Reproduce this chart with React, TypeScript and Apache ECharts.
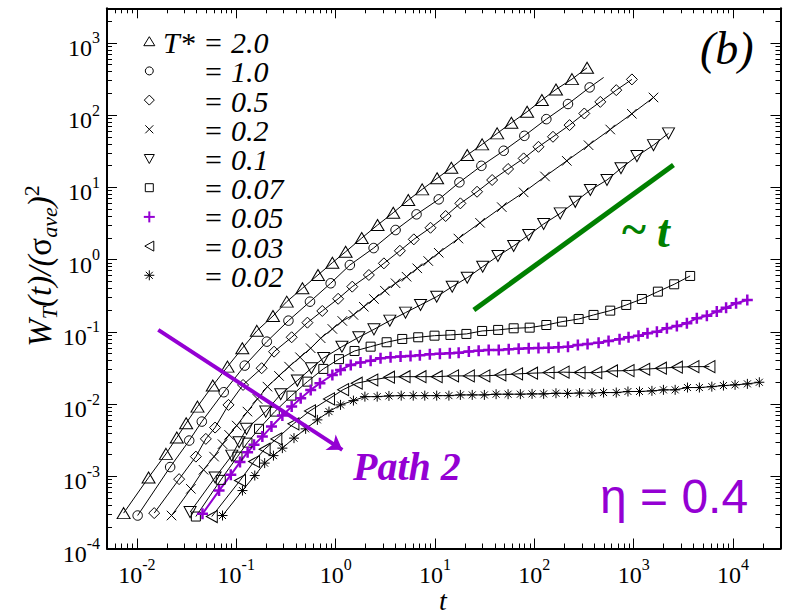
import React, { useEffect, useRef } from 'react';
import * as echarts from 'echarts';

const FONT = '"Liberation Serif", "Times New Roman", serif';
const SANS = '"Liberation Sans", Arial, sans-serif';
const PURPLE = '#9400d3';
const GREEN = '#008000';

// ---- data ----
// T* = 2.0
const t20 = [0.00735, 0.0131, 0.0196, 0.0252, 0.0313, 0.0407, 0.058, 0.0816, 0.115, 0.161, 0.234, 0.322, 0.463, 0.664, 0.927, 1.26, 1.83, 2.64, 3.8, 5.38, 7.43, 10.5, 14.6, 21.1, 29.8, 42.2, 58.7, 84.5, 119, 165, 239, 339];
const w20 = [3.09e-4, 9.6e-4, 2.04e-3, 3.43e-3, 5.42e-3, 9.2e-3, 0.018, 0.0329, 0.0591, 0.103, 0.165, 0.261, 0.4, 0.611, 0.903, 1.28, 1.98, 3.0, 4.44, 6.65, 9.35, 13.3, 18.6, 27.9, 39.2, 55.7, 78.0, 111, 161, 226, 314, 450];
// T* = 1.0
const t10 = [0.01017, 0.0216, 0.0336, 0.045, 0.0748, 0.1217, 0.203, 0.335, 0.552, 0.891, 1.39, 2.41, 4.01, 6.52, 10.9, 17.6, 29.3, 49.1, 79.3, 132, 218, 360, 498];
const w10 = [2.86e-4, 1.34e-3, 3.12e-3, 5.71e-3, 0.01456, 0.034, 0.073, 0.1425, 0.261, 0.469, 0.839, 1.44, 2.56, 4.22, 6.8, 11.7, 19.8, 32.0, 51.5, 87.7, 142, 241, 331];
// T* = 0.5
const t05 = [0.01493, 0.0266, 0.0392, 0.0494, 0.0612, 0.0835, 0.117, 0.18, 0.24, 0.361, 0.52, 0.734, 1.06, 1.47, 2.16, 3.06, 4.43, 6.12, 9.01, 12.8, 18.0, 26.5, 37.6, 54.4, 78.0, 110, 154, 226, 318, 461, 667, 959];
const w05 = [3.09e-4, 9.12e-4, 1.87e-3, 3.29e-3, 4.72e-3, 9.72e-3, 0.01837, 0.0313, 0.053, 0.0839, 0.1336, 0.194, 0.286, 0.421, 0.611, 0.885, 1.32, 1.9, 2.75, 4.0, 5.99, 8.67, 12.6, 17.9, 25.1, 36.3, 50.0, 72.5, 105, 152, 221, 311];
// T* = 0.2
const t02 = [0.0223, 0.0349, 0.0468, 0.0598, 0.0727, 0.0847, 0.101, 0.1296, 0.1633, 0.206, 0.269, 0.34, 0.438, 0.561, 0.707, 0.927, 1.167, 1.51, 1.92, 2.43, 3.13, 4.01, 5.17, 6.63, 8.55, 10.9, 17.2, 28.4, 47.0, 78.0, 128, 212, 351, 580, 957, 1581];
const w02 = [2.86e-4, 6.7e-4, 1.23e-3, 1.87e-3, 2.78e-3, 3.74e-3, 5.03e-3, 7.85e-3, 0.01177, 0.0174, 0.0245, 0.0329, 0.0444, 0.0591, 0.0813, 0.1094, 0.141, 0.171, 0.222, 0.284, 0.37, 0.469, 0.578, 0.755, 0.953, 1.24, 1.95, 3.22, 5.31, 8.5, 14.1, 23.2, 38.2, 63.0, 104, 175];
// T* = 0.1
const t01 = [0.0343, 0.0612, 0.0901, 0.1067, 0.1267, 0.198, 0.28, 0.412, 0.57, 0.757, 1.157, 1.71, 2.43, 3.51, 5.05, 7.15, 10.4, 14.9, 21.1, 30.2, 43.0, 61.9, 87.7, 124, 182, 258, 366, 538, 744, 1077, 1581, 2239];
const w01 = [3.19e-4, 9.6e-4, 1.93e-3, 2.96e-3, 4.53e-3, 7.85e-3, 0.01367, 0.0211, 0.0313, 0.0434, 0.0622, 0.0839, 0.108, 0.1425, 0.184, 0.235, 0.306, 0.421, 0.56, 0.795, 1.12, 1.54, 2.18, 3.1, 4.35, 6.29, 9.15, 12.6, 18.3, 27.0, 38.3, 55.7];
// T* = 0.07
const t007 = [0.0392, 0.0698, 0.1028, 0.1296, 0.1694, 0.244, 0.359, 0.52, 0.752, 1.08, 1.55, 2.25, 3.26, 4.68, 6.78, 9.89, 14.3, 20.7, 29.8, 43.2, 61.9, 89.7, 132, 190, 279, 394, 580, 841, 1208, 1750, 2553, 3698];
const w007 = [2.77e-4, 8.91e-4, 1.87e-3, 2.92e-3, 4.53e-3, 7.85e-3, 0.01306, 0.0204, 0.0306, 0.0418, 0.0542, 0.0622, 0.0716, 0.0795, 0.0839, 0.0883, 0.0904, 0.0933, 0.1026, 0.106, 0.1117, 0.114, 0.124, 0.138, 0.15, 0.171, 0.196, 0.235, 0.284, 0.359, 0.454, 0.592];
// T* = 0.05
const t005 = [0.0457, 0.0671, 0.0881, 0.109, 0.13, 0.151, 0.183, 0.226, 0.291, 0.361, 0.445, 0.561, 0.695, 0.927, 1.12, 1.42, 1.78, 2.25, 2.83, 3.57, 4.5, 5.67, 7.04, 8.87, 11.2, 14.1, 17.3, 21.9, 27.5, 34.7, 43.8, 55.2, 69.5, 87.7, 110, 139, 175, 218, 274, 343, 443, 558, 720, 887, 1117, 1376, 1711, 2157, 2717, 3428, 4315, 5445, 6855, 8505, 10715, 13900];
const w005 = [3.02e-4, 6.34e-4, 1.045e-3, 1.57e-3, 2.15e-3, 2.72e-3, 3.54e-3, 4.87e-3, 6.92e-3, 9.2e-3, 0.012, 0.01567, 0.0194, 0.0252, 0.0296, 0.0348, 0.0374, 0.0398, 0.043, 0.0444, 0.0453, 0.0463, 0.0473, 0.0489, 0.0498, 0.0505, 0.0514, 0.0531, 0.0548, 0.056, 0.056, 0.0573, 0.0584, 0.0591, 0.0597, 0.0603, 0.061, 0.0622, 0.0656, 0.0678, 0.0706, 0.0746, 0.0788, 0.0839, 0.0883, 0.0953, 0.1003, 0.1117, 0.12, 0.131, 0.154, 0.166, 0.19, 0.215, 0.248, 0.275];
// T* = 0.03
const t003 = [0.0567, 0.109, 0.151, 0.193, 0.253, 0.376, 0.552, 0.857, 1.19, 1.63, 2.34, 3.44, 4.94, 7.15, 10.4, 15.2, 21.9, 31.4, 45.5, 67.0, 94.8, 139, 197, 285, 420, 604, 887, 1276, 1877, 2717, 3990, 5780];
const w003 = [2.77e-4, 8.72e-4, 1.6e-3, 2.37e-3, 3.29e-3, 5.31e-3, 8.03e-3, 0.01177, 0.0158, 0.0194, 0.0215, 0.0235, 0.0239, 0.0239, 0.0239, 0.0245, 0.0245, 0.0245, 0.0252, 0.0261, 0.0267, 0.0272, 0.0276, 0.0272, 0.0272, 0.0287, 0.029, 0.0303, 0.0313, 0.0323, 0.0329, 0.0329];
// T* = 0.02
const t002 = [0.0727, 0.1154, 0.1535, 0.193, 0.2366, 0.291, 0.381, 0.499, 0.655, 0.857, 1.12, 1.51, 1.97, 2.62, 3.44, 4.57, 6.04, 7.89, 10.4, 13.8, 18.0, 23.7, 31.4, 41.2, 54.4, 72.3, 94.8, 124, 165, 216, 285, 380, 497, 667, 875, 1143, 1524, 1991, 2612, 3475, 4581, 6109, 7998, 10470, 13930, 18370];
const w002 = [2.86e-4, 6.34e-4, 1.023e-3, 1.52e-3, 1.93e-3, 2.45e-3, 3.37e-3, 4.53e-3, 6.03e-3, 7.85e-3, 9.72e-3, 0.01114, 0.01265, 0.01265, 0.01294, 0.01306, 0.01306, 0.01306, 0.01306, 0.01306, 0.01336, 0.01336, 0.01336, 0.01367, 0.01367, 0.01367, 0.0138, 0.0138, 0.0141, 0.014, 0.0142, 0.0141, 0.0144, 0.0144, 0.0149, 0.0149, 0.0152, 0.0157, 0.0157, 0.0169, 0.0169, 0.0174, 0.018, 0.0184, 0.019, 0.02];

// guide line ~t and "Path 2" arrow (data coordinates)
const slopeT = [24.6, 2512];
const slopeW = [0.2, 20.3];
const arrowT = [0.0164, 1.167];
const arrowW = [0.106, 0.00232];

const legendLabels = ['2.0', '1.0', '0.5', '0.2', '0.1', '0.07', '0.05', '0.03', '0.02'];
const xMajorTicks = [1e-2, 1e-1, 1, 10, 100, 1000, 10000];
const yMajorTicks = [1e-4, 1e-3, 1e-2, 1e-1, 1, 10, 100, 1000];
const X_MIN = 0.005, X_MAX = 30000, Y_MIN = 1e-4, Y_MAX = 3000;

const seriesData = [
  [t20, w20], [t10, w10], [t05, w05], [t02, w02], [t01, w01],
  [t007, w007], [t005, w005], [t003, w003], [t002, w002],
];

// ---- styles ----
const STYLES: any[] = [
  { kind: 'triUp', sym: 'path://M5,0L10,10L0,10Z', size: [13, 11] },
  { kind: 'circle', sym: 'circle', size: 9.5, tailNoMarker: true },
  { kind: 'diamond', sym: 'path://M5,0L10,5L5,10L0,5Z', size: 11 },
  { kind: 'cross', sym: 'path://M0,0L10,10M10,0L0,10', size: 9.5 },
  { kind: 'triDown', sym: 'path://M0,0L10,0L5,10Z', size: [12, 11] },
  { kind: 'square', sym: 'rect', size: 9 },
  { kind: 'plus', sym: 'path://M5,0L5,10M0,5L10,5', size: 11, color: PURPLE, bw: 2.5, lw: 2 },
  { kind: 'triLeft', sym: 'path://M10,0L10,10L0,5Z', size: [11, 12] },
  { kind: 'star', sym: 'path://M5,0L5,10M0,5L10,5M1.5,1.5L8.5,8.5M8.5,1.5L1.5,8.5', size: 10 },
];

function minorTicks(lo: number, hi: number) {
  const out: number[] = [];
  for (let e = -6; e <= 6; e++) {
    for (let m = 2; m <= 9; m++) {
      const v = m * Math.pow(10, e);
      if (v >= lo * 0.999 && v <= hi * 1.001) out.push(v);
    }
  }
  return out;
}

const pow10Label = (v: number) => `{b|10}{s|${Math.round(Math.log10(v))}}`;
const labelRich = {
  b: { fontSize: 24, fontFamily: FONT, color: '#000', lineHeight: 36 },
  s: { fontSize: 16, fontFamily: FONT, color: '#000', lineHeight: 16, verticalAlign: 'top' },
};

function legendIcon(kind: string, cx: number, cy: number): any[] {
  const s = { stroke: '#000', fill: 'none', lineWidth: 1 };
  const ln = (x1: number, y1: number, x2: number, y2: number, st: any = s) => ({ type: 'line', silent: true, shape: { x1, y1, x2, y2 }, style: st });
  switch (kind) {
    case 'triUp': return [{ type: 'polygon', silent: true, shape: { points: [[cx - 5.5, cy + 4], [cx + 5.5, cy + 4], [cx, cy - 5]] }, style: s }];
    case 'circle': return [{ type: 'circle', silent: true, shape: { cx, cy, r: 4 }, style: s }];
    case 'diamond': return [{ type: 'polygon', silent: true, shape: { points: [[cx, cy - 5], [cx + 5, cy], [cx, cy + 5], [cx - 5, cy]] }, style: s }];
    case 'cross': return [ln(cx - 4, cy - 4, cx + 4, cy + 4), ln(cx + 4, cy - 4, cx - 4, cy + 4)];
    case 'triDown': return [{ type: 'polygon', silent: true, shape: { points: [[cx - 5, cy - 4], [cx + 5, cy - 4], [cx, cy + 5]] }, style: s }];
    case 'square': return [{ type: 'rect', silent: true, shape: { x: cx - 4, y: cy - 4, width: 8, height: 8 }, style: s }];
    case 'plus': {
      const p = { stroke: PURPLE, fill: 'none', lineWidth: 2 };
      return [ln(cx - 5.5, cy, cx + 5.5, cy, p), ln(cx, cy - 5.5, cx, cy + 5.5, p)];
    }
    case 'triLeft': return [{ type: 'polygon', silent: true, shape: { points: [[cx + 4.5, cy - 5], [cx + 4.5, cy + 5], [cx - 4.5, cy]] }, style: s }];
    case 'star': return [ln(cx, cy - 5, cx, cy + 5), ln(cx - 5, cy, cx + 5, cy), ln(cx - 3.5, cy - 3.5, cx + 3.5, cy + 3.5), ln(cx + 3.5, cy - 3.5, cx - 3.5, cy + 3.5)];
  }
  return [];
}

function buildOption() {
  const xMinor = minorTicks(X_MIN, X_MAX);
  const yMinor = minorTicks(Y_MIN, Y_MAX);
  const tickStyle = { color: '#000', width: 1 };
  const baseX = { type: 'log', logBase: 10, min: X_MIN, max: X_MAX, gridIndex: 0, splitLine: { show: false }, minorTick: { show: false } };
  const baseY = { type: 'log', logBase: 10, min: Y_MIN, max: Y_MAX, gridIndex: 0, splitLine: { show: false }, minorTick: { show: false } };

  const xAxis = [
    {
      ...baseX, position: 'bottom',
      axisLine: { show: true, onZero: false, lineStyle: { color: '#000', width: 2 } },
      axisTick: { show: true, inside: true, length: 10, lineStyle: tickStyle, customValues: xMajorTicks },
      axisLabel: { show: true, customValues: xMajorTicks, formatter: pow10Label, rich: labelRich, margin: 8 },
    },
    { ...baseX, position: 'bottom', axisLine: { show: false }, axisLabel: { show: false },
      axisTick: { show: true, inside: true, length: 5, lineStyle: tickStyle, customValues: xMinor } },
    { ...baseX, position: 'top', axisLine: { show: true, onZero: false, lineStyle: { color: '#000', width: 2 } }, axisLabel: { show: false },
      axisTick: { show: true, inside: true, length: 10, lineStyle: tickStyle, customValues: xMajorTicks } },
    { ...baseX, position: 'top', axisLine: { show: false }, axisLabel: { show: false },
      axisTick: { show: true, inside: true, length: 5, lineStyle: tickStyle, customValues: xMinor } },
  ];
  const yAxis = [
    {
      ...baseY, position: 'left',
      axisLine: { show: true, onZero: false, lineStyle: { color: '#000', width: 2 } },
      axisTick: { show: true, inside: true, length: 10, lineStyle: tickStyle, customValues: yMajorTicks },
      axisLabel: { show: true, customValues: yMajorTicks, formatter: pow10Label, rich: labelRich, margin: 7, padding: [10, 0, 0, 0] },
    },
    { ...baseY, position: 'left', axisLine: { show: false }, axisLabel: { show: false },
      axisTick: { show: true, inside: true, length: 5, lineStyle: tickStyle, customValues: yMinor } },
    { ...baseY, position: 'right', axisLine: { show: true, onZero: false, lineStyle: { color: '#000', width: 2 } }, axisLabel: { show: false },
      axisTick: { show: true, inside: true, length: 10, lineStyle: tickStyle, customValues: yMajorTicks } },
    { ...baseY, position: 'right', axisLine: { show: false }, axisLabel: { show: false },
      axisTick: { show: true, inside: true, length: 5, lineStyle: tickStyle, customValues: yMinor } },
  ];

  const series: any[] = seriesData.map(([ts, ws], i) => {
    const st = STYLES[i];
    const color = st.color || '#000';
    const data = ts.map((t, k) => {
      if (st.tailNoMarker && k === ts.length - 1) return { value: [t, ws[k]], symbol: 'none' };
      return [t, ws[k]];
    });
    return {
      type: 'line', name: legendLabels[i], xAxisIndex: 0, yAxisIndex: 0,
      data, symbol: st.sym, symbolSize: st.size, showSymbol: true, silent: true,
      lineStyle: { color, width: st.lw || 1 },
      itemStyle: { color: 'transparent', borderColor: color, borderWidth: st.bw || 1 },
      emphasis: { disabled: true }, z: 3,
    };
  });

  series.push({
    type: 'line', xAxisIndex: 0, yAxisIndex: 0, silent: true, symbol: 'none',
    data: slopeT.map((t, k) => [t, slopeW[k]]),
    lineStyle: { color: GREEN, width: 5 }, z: 4,
  });
  series.push({
    type: 'lines', coordinateSystem: 'cartesian2d', xAxisIndex: 0, yAxisIndex: 0, silent: true,
    symbol: ['none', 'arrow'], symbolSize: 14,
    lineStyle: { color: PURPLE, width: 4, opacity: 1 },
    data: [{ coords: arrowT.map((t, k) => [t, arrowW[k]]) }], z: 5,
  });

  const graphic: any[] = [];
  // x-axis title
  graphic.push({
    type: 'text', silent: true, x: 443, y: 600,
    style: { text: 't', fontSize: 28, lineHeight: 20, fontStyle: 'italic', fontFamily: FONT, fill: '#000', align: 'center', verticalAlign: 'middle' },
  });
  // y-axis title
  graphic.push({
    type: 'text', silent: true, x: 40, y: 266, rotation: Math.PI / 2,
    style: {
      text: '{w|W}{s|T}{m|(t)/(}{g|σ}{s|ave}{m|)}{p|2}',
      align: 'center', verticalAlign: 'middle',
      rich: {
        w: { fontSize: 33, fontStyle: 'italic', fontFamily: FONT, fill: '#000', lineHeight: 40 },
        m: { fontSize: 33, fontStyle: 'italic', fontFamily: FONT, fill: '#000', lineHeight: 40 },
        g: { fontSize: 33, fontFamily: FONT, fill: '#000', lineHeight: 40 },
        s: { fontSize: 22, fontStyle: 'italic', fontFamily: FONT, fill: '#000', lineHeight: 22, verticalAlign: 'bottom' },
        p: { fontSize: 22, fontFamily: FONT, fill: '#000', lineHeight: 22, verticalAlign: 'top' },
      },
    },
  });
  // legend
  legendLabels.forEach((lab, i) => {
    const cy = 41.7 + i * 29.2;
    graphic.push(...legendIcon(STYLES[i].kind, 149.3, cy));
    graphic.push({
      type: 'text', silent: true, x: 205, y: cy + 1,
      style: { text: '=', fontSize: 30, lineHeight: 26, fontFamily: FONT, fill: '#000', align: 'left', verticalAlign: 'middle' },
    });
    graphic.push({
      type: 'text', silent: true, x: 231, y: cy + 1,
      style: { text: lab, fontSize: 30, lineHeight: 26, fontStyle: 'italic', fontFamily: FONT, fill: '#000', align: 'left', verticalAlign: 'middle' },
    });
  });
  graphic.push({
    type: 'text', silent: true, x: 163, y: 42.7,
    style: { text: 'T*', fontSize: 30, lineHeight: 26, fontStyle: 'italic', fontFamily: FONT, fill: '#000', align: 'left', verticalAlign: 'middle' },
  });
  // annotations
  graphic.push({
    type: 'text', silent: true, x: 700, y: 48,
    style: { text: '(b)', fontSize: 46, fontStyle: 'italic', fontFamily: FONT, fill: '#000', align: 'left', verticalAlign: 'middle' },
  });
  graphic.push({
    type: 'text', silent: true, x: 622, y: 229,
    style: { text: '~', fontSize: 46, fontWeight: 'bold', fontFamily: FONT, fill: GREEN, align: 'left', verticalAlign: 'middle' },
  });
  graphic.push({
    type: 'text', silent: true, x: 657, y: 231,
    style: { text: 't', fontSize: 46, fontWeight: 'bold', fontStyle: 'italic', fontFamily: FONT, fill: GREEN, align: 'left', verticalAlign: 'middle' },
  });
  graphic.push({
    type: 'text', silent: true, x: 353, y: 466,
    style: { text: 'Path 2', fontSize: 40, fontWeight: 'bold', fontStyle: 'italic', fontFamily: FONT, fill: PURPLE, align: 'left', verticalAlign: 'middle' },
  });
  graphic.push({
    type: 'text', silent: true, x: 600, y: 496,
    style: { text: 'η = 0.4', fontSize: 48, fontFamily: SANS, fill: PURPLE, align: 'left', verticalAlign: 'middle' },
  });

  return {
    animation: false,
    backgroundColor: '#fff',
    textStyle: { fontFamily: FONT },
    grid: { left: 107, right: 11.5, top: 8.3, bottom: 63.5, containLabel: false, outerBoundsMode: 'none' },
    xAxis, yAxis, series, graphic,
  };
}

export default function App() {
  const ref = useRef<HTMLDivElement>(null);
  useEffect(() => {
    const chart = echarts.init(ref.current!, null, { renderer: 'svg' });
    chart.setOption(buildOption() as any);
    return () => chart.dispose();
  }, []);
  return <div ref={ref} style={{ position: 'fixed', left: 0, top: 0, width: 792, height: 612, background: '#fff' }} />;
}
